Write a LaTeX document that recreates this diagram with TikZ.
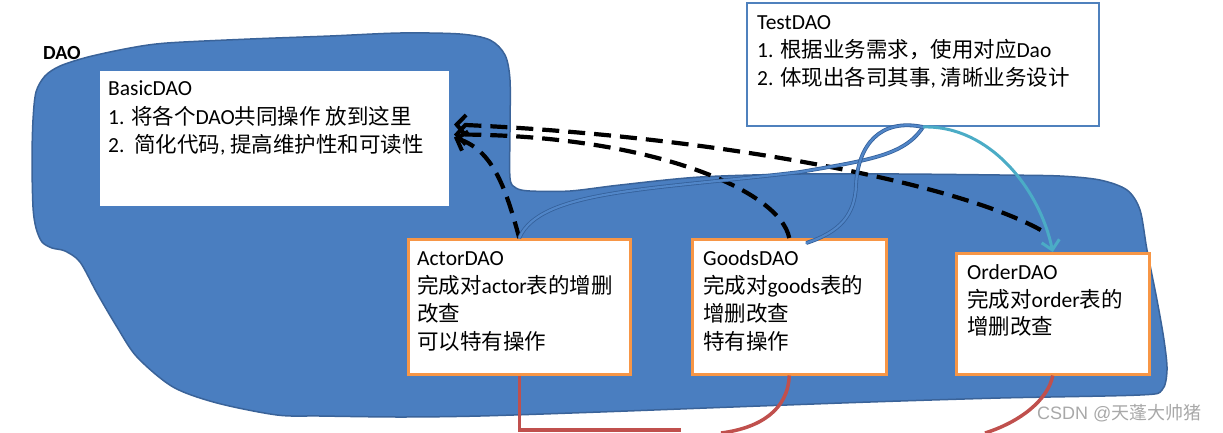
\documentclass[tikz,border=0pt]{standalone}
\usepackage{fontspec}
\setmainfont{Carlito}
\newfontfamily\zhfont{Noto Sans CJK SC}
\newfontfamily\wmfont{Liberation Sans}
\newcommand\zh[1]{{\zhfont #1}}
\usetikzlibrary{arrows.meta,calc}
\definecolor{blobfill}{HTML}{4A7EC0}
\definecolor{blobline}{HTML}{3A6399}
\definecolor{testblue}{HTML}{4F81BD}
\definecolor{orangeb}{HTML}{F79646}
\definecolor{redl}{HTML}{C0504D}
\definecolor{cyanl}{HTML}{4BACC6}
\definecolor{curveb}{HTML}{5186C8}
\definecolor{curveo}{HTML}{34609A}
\definecolor{wmgray}{HTML}{A8A8A8}
\tikzset{
  txt/.style={anchor=base west, inner sep=0pt, font=\fontsize{21.5}{26}\selectfont},
  daolabel/.style={anchor=base west, inner sep=0pt, font=\fontsize{20}{24}\selectfont\bfseries},
  boxbase/.style={anchor=north west, inner sep=0pt, fill=white, rectangle},
  whitebox/.style={boxbase, draw=white, line width=1pt},
  testbox/.style={boxbase, draw=testblue, line width=2pt},
  orangebox/.style={boxbase, draw=orangeb, line width=2.5pt},
  inherit/.style={draw=black, line width=4.2pt, dash pattern=on 17pt off 9pt,
     -{Straight Barb[length=9pt,width=20pt,line width=4pt]}},
  bluecurve/.style={draw=curveb, line width=2.2pt, line cap=round,
     preaction={draw=curveo, line width=3.8pt}},
  cyanarrow/.style={draw=cyanl, line width=3pt,
     -{Straight Barb[length=9pt,width=18pt,line width=3pt]}},
  redline/.style={draw=redl, line width=3.5pt},
  watermark/.style={anchor=base west, inner sep=0pt, text=wmgray, font=\wmfont\fontsize{18}{22}\selectfont}
}
\begin{document}
\begin{tikzpicture}[x=1pt,y=-1pt]
\useasboundingbox (0,0) rectangle (1223,432);
% DAO region
\fill[blobfill, draw=blobline, line width=1.5pt] plot[smooth cycle, tension=0.5] coordinates {
 (33,120) (36,92) (45,76) (60,66) (88,57) (130,48) (167,43) (250,39) (330,36) (400,33)
 (460,34) (490,40) (505,55) (510,80) (510,130) (510,178) (516,188) (530,191) (570,191)
 (620,185) (700,177) (800,174) (900,174) (1000,175) (1060,176) (1100,180) (1127,190)
 (1140,210) (1147,250) (1157,300) (1164,340) (1167,370) (1162,390) (1140,395) (1000,398)
 (870,402) (733,407) (600,412) (480,416) (400,417) (320,416) (277,415) (217,403) (173,387)
 (137,357) (117,327) (97,293) (80,262) (65,251) (52,248) (42,242) (36,228) (33,207) (32,160)};
\node[daolabel] (daol) at (43,59.5) {DAO};

% boxes
\node[whitebox, minimum width=348pt, minimum height=134pt] (basic) at (100,71) {};
\node[testbox, minimum width=352pt, minimum height=123pt] (test) at (746,2) {};
\node[orangebox, minimum width=222pt, minimum height=135pt] (actor) at (407,238) {};
\node[orangebox, minimum width=194pt, minimum height=135pt] (goods) at (691,238) {};
\node[orangebox, minimum width=193pt, minimum height=121pt] (order) at (955,252) {};

% texts
\node[txt] (b1) at (108,95.5) {BasicDAO};
\node[txt] (b2) at (108,124) {1. \zh{将各个}DAO\zh{共同操作} \zh{放到这里}};
\node[txt] (b3) at (108,152.5) {2.\ \ \zh{简化代码}, \zh{提高维护性和可读性}};

\node[txt] (t1) at (757,29.5) {TestDAO};
\node[txt] (t2) at (757,57.5) {1. \zh{根据业务需求，使用对应}Dao};
\node[txt] (t3) at (757,85.5) {2. \zh{体现出各司其事}, \zh{清晰业务设计}};

\node[txt] (a1) at (417,265.5) {ActorDAO};
\node[txt] (a2) at (417,293.5) {\zh{完成对}actor\zh{表的增删}};
\node[txt] (a3) at (417,321.5) {\zh{改查}};
\node[txt] (a4) at (417,349.5) {\zh{可以特有操作}};

\node[txt] (g1) at (703,265.5) {GoodsDAO};
\node[txt] (g2) at (703,293.5) {\zh{完成对}goods\zh{表的}};
\node[txt] (g3) at (703,321.5) {\zh{增删改查}};
\node[txt] (g4) at (703,349.5) {\zh{特有操作}};

\node[txt] (o1) at (967,279.5) {OrderDAO};
\node[txt] (o2) at (967,307) {\zh{完成对}order\zh{表的}};
\node[txt] (o3) at (967,334.5) {\zh{增删改查}};

% coordinates
\coordinate (tipA) at ($(basic.east)+(5,-1)$);
\coordinate (tipG) at ($(basic.east)+(5,-4)$);
\coordinate (tipO) at ($(basic.east)+(5,-14)$);
\coordinate (ordd) at ($(order.north)+(-12,-22)$);
\coordinate (goodsin) at ($(goods.north)+(17,5)$);

% inheritance (dashed) arrows
\draw[inherit] (actor.north) .. controls (505,185) and (492,150) .. (tipA);
\draw[inherit] (goods.north) .. controls (780,190) and (650,135) .. (tipG);
\draw[inherit] (ordd) .. controls (950,180) and (700,135) .. (tipO);

% TestDAO usage curves
\draw[bluecurve] (test.south) .. controls (905,155) and (870,160) .. (800,172)
   .. controls (650,190) and (540,190) .. (actor.north);
\draw[bluecurve] (test.south) .. controls (880,118) and (858,145) .. (856,185)
   .. controls (855,215) and (840,232) .. (goodsin);
\draw[cyanarrow] (test.south) .. controls (990,125) and (1040,190) .. (order.north);

% red lines
\coordinate (redA) at (681,430);
\coordinate (redG) at (721,433);
\coordinate (redO) at (985,433);
\draw[redline] (actor.south) |- (redA);
\draw[redline] (goods.south) .. controls (788,410) and (760,428) .. (redG);
\draw[redline] (order.south) .. controls (1048,400) and (1020,422) .. (redO);

% watermark
\node[watermark] (wm) at (1037,419.5) {CSDN @\zh{天蓬大帅猪}};
\end{tikzpicture}
\end{document}
